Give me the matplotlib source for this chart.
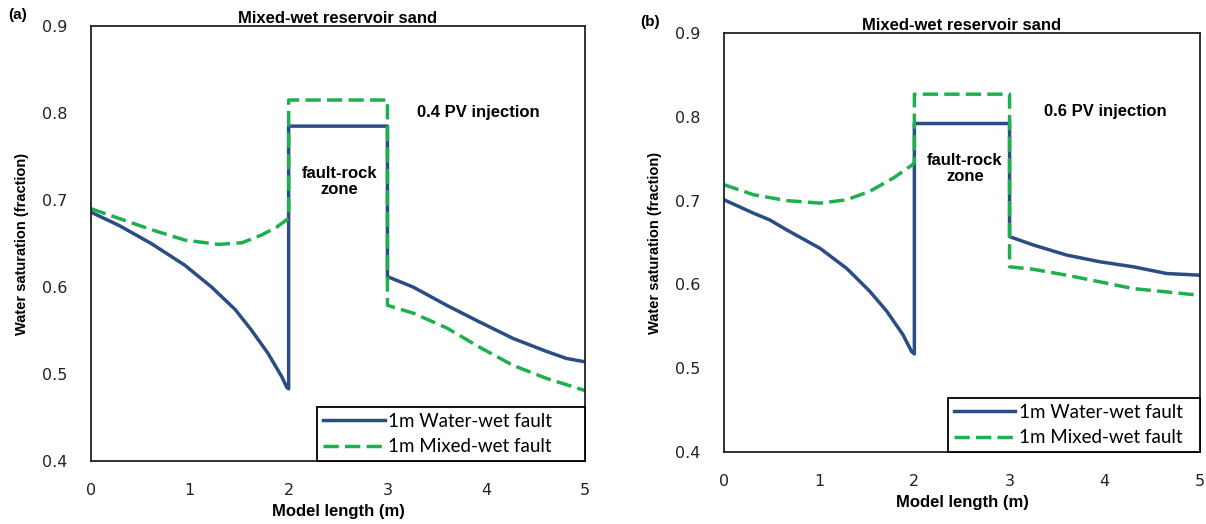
import matplotlib
matplotlib.use("Agg")
import matplotlib.pyplot as plt

plt.rcParams['font.family'] = ['Liberation Sans', 'DejaVu Sans']

# panel (a): 0.4 PV injection
a_water_x = [0, 0.28, 0.61, 0.95, 1.22, 1.46, 1.62, 1.79, 1.93, 1.98, 2.0, 2.0, 3.0, 3.0, 3.26, 3.60, 3.93, 4.27, 4.61, 4.81, 5.0]
a_water_y = [0.686, 0.671, 0.650, 0.625, 0.600, 0.574, 0.551, 0.524, 0.497, 0.485, 0.483, 0.785, 0.785, 0.612, 0.600, 0.579, 0.560, 0.541, 0.526, 0.518, 0.514]
a_mixed_x = [0, 0.28, 0.61, 0.95, 1.29, 1.53, 1.73, 1.88, 2.0, 2.0, 3.0, 3.0, 3.26, 3.60, 3.93, 4.27, 4.61, 5.0]
a_mixed_y = [0.690, 0.679, 0.666, 0.654, 0.649, 0.651, 0.660, 0.669, 0.679, 0.815, 0.815, 0.579, 0.570, 0.553, 0.531, 0.510, 0.495, 0.481]

# panel (b): 0.6 PV injection
b_water_x = [0, 0.31, 0.48, 0.66, 1.01, 1.29, 1.53, 1.71, 1.88, 1.97, 2.0, 2.0, 3.0, 3.0, 3.25, 3.60, 3.95, 4.30, 4.65, 5.0]
b_water_y = [0.701, 0.685, 0.677, 0.665, 0.643, 0.619, 0.592, 0.568, 0.540, 0.520, 0.517, 0.792, 0.792, 0.657, 0.647, 0.635, 0.627, 0.621, 0.613, 0.611]
b_mixed_x = [0, 0.31, 0.66, 1.01, 1.29, 1.53, 1.78, 1.97, 2.0, 2.0, 3.0, 3.0, 3.25, 3.60, 3.95, 4.30, 4.65, 5.0]
b_mixed_y = [0.719, 0.707, 0.700, 0.697, 0.701, 0.711, 0.727, 0.742, 0.745, 0.827, 0.827, 0.621, 0.618, 0.611, 0.603, 0.595, 0.591, 0.587]

x_ticks = [0, 1, 2, 3, 4, 5]
y_ticks = [0.4, 0.5, 0.6, 0.7, 0.8, 0.9]
series_labels = ['1m Water-wet fault', '1m Mixed-wet fault']

blue = '#2b4d86'
green = '#1eb04f'

fig = plt.figure(figsize=(12.06, 5.24), dpi=100)

panels = [
    dict(rect=[0.0755, 0.1202, 0.4096, 0.830], tag='(a)', tag_xy=(0.007, 0.963),
         wx=a_water_x, wy=a_water_y, mx=a_mixed_x, my=a_mixed_y,
         pv='0.4 PV injection', pv_xy=(3.30, 0.801), zone_xy=(2.51, 0.721),
         leg_box=(0.4575, 0.0, 0.5425, 0.1)),
    dict(rect=[0.6003, 0.1374, 0.3947, 0.7996], tag='(b)', tag_xy=(0.531, 0.950),
         wx=b_water_x, wy=b_water_y, mx=b_mixed_x, my=b_mixed_y,
         pv='0.6 PV injection', pv_xy=(3.36, 0.806), zone_xy=(2.53, 0.738),
         leg_box=(0.4706, 0.0, 0.5294, 0.1)),
]

for p in panels:
    ax = fig.add_axes(p['rect'])
    ax.plot(p['wx'], p['wy'], color=blue, lw=2.5, solid_joinstyle='round',
            label=series_labels[0])
    ax.plot(p['mx'], p['my'], color=green, lw=2.5, dashes=(4.4, 1.8),
            label=series_labels[1])
    ax.set_xlim(0, 5)
    ax.set_ylim(0.4, 0.9)
    ax.set_xticks(x_ticks)
    ax.set_yticks(y_ticks)
    ax.set_xticklabels([str(t) for t in x_ticks])
    ax.set_yticklabels(['%.1f' % t for t in y_ticks])
    for lab in ax.get_xticklabels() + ax.get_yticklabels():
        lab.set_family('DejaVu Sans')
    ax.tick_params(length=0, labelsize=11.5, colors='#222222')
    ax.tick_params(axis='x', pad=16)
    ax.tick_params(axis='y', pad=17)
    for s in ax.spines.values():
        s.set_linewidth(1.3)
        s.set_color('#222222')
    ax.set_title('Mixed-wet reservoir sand', fontsize=12, fontweight='bold', pad=1)
    ax.set_xlabel('Model length (m)', fontsize=12, fontweight='bold', labelpad=4)
    ax.set_ylabel('Water saturation (fraction)', fontsize=10.5, fontweight='bold', labelpad=9)
    ax.text(p['pv_xy'][0], p['pv_xy'][1], p['pv'], fontsize=12, fontweight='bold', va='center')
    ax.text(p['zone_xy'][0], p['zone_xy'][1], 'fault-rock\nzone', fontsize=12,
            fontweight='bold', ha='center', va='center', linespacing=1.05)
    leg = ax.legend(loc='lower right', bbox_to_anchor=p['leg_box'], mode='expand',
                    borderaxespad=0, fancybox=False, edgecolor='black', framealpha=1,
                    prop={'family': 'Lato', 'size': 13.5}, handlelength=3.3,
                    handletextpad=0.2, labelspacing=0.45, borderpad=0.3)
    leg.get_frame().set_linewidth(1.3)
    fig.text(p['tag_xy'][0], p['tag_xy'][1], p['tag'], fontsize=11, fontweight='bold')

fig.savefig('out.png', dpi=100)
